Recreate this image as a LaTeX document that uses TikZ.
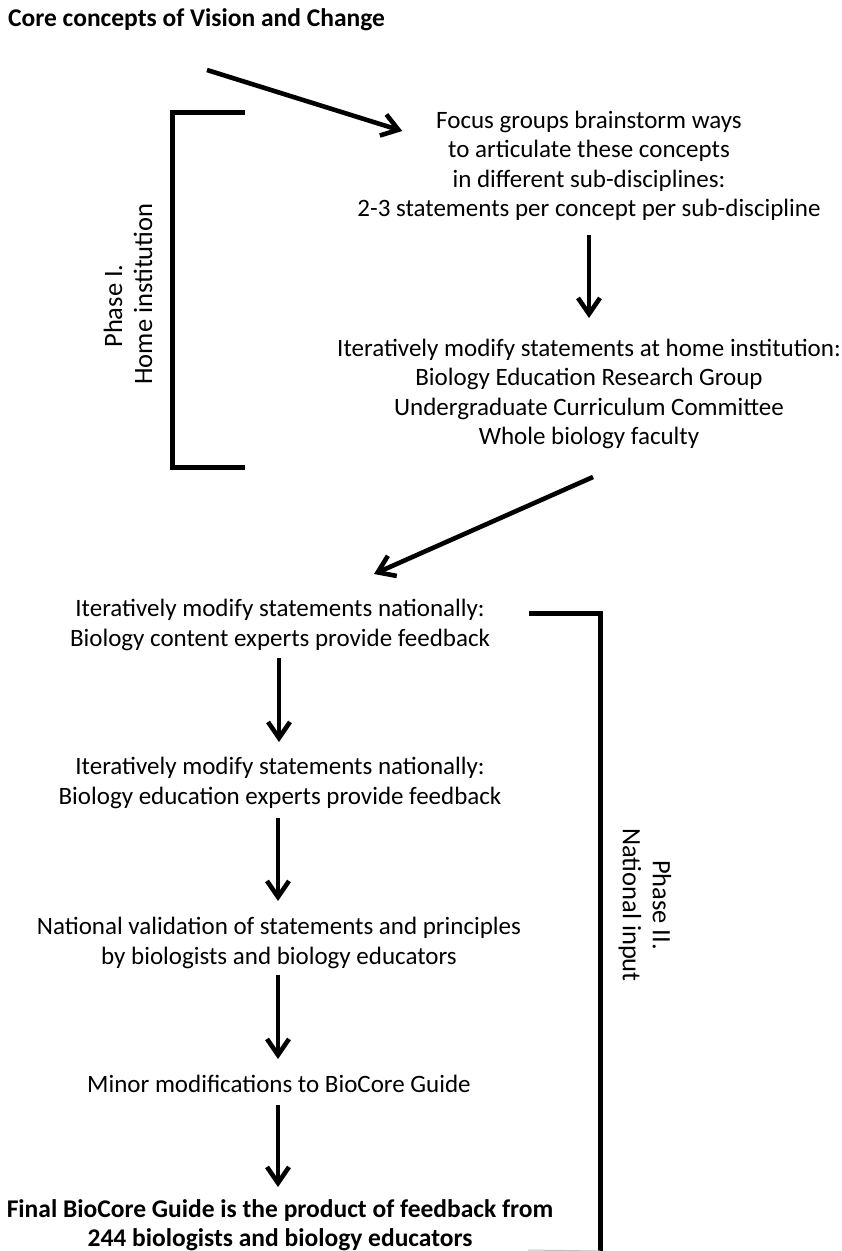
\documentclass[tikz,border=0pt]{standalone}
\usepackage{fontspec}
\setmainfont{Carlito}
\usetikzlibrary{arrows.meta,calc}
\begin{document}
\begin{tikzpicture}[x=1pt,y=-1pt,
  txt/.style={inner sep=0pt,align=center,font=\fontsize{25}{29.5}\selectfont},
  btxt/.style={txt,font=\fontsize{25.5}{29.5}\selectfont\bfseries},
  lbl/.style={inner sep=0pt,align=center,font=\fontsize{26.5}{30}\selectfont},
  arr/.style={line width=4.6pt,-{Straight Barb[length=16pt,width=22pt]}},
  bracket/.style={line width=5pt,line cap=butt,line join=miter}]
\useasboundingbox (0,0) rectangle (842,1251);
\fill[white] (0,0) rectangle (842,1251);

\node[btxt,anchor=west] (title) at (8,20) {Core concepts of Vision and Change};
\node[txt] (focus) at (589,166) {Focus groups brainstorm ways\\to articulate these concepts\\in different sub-disciplines:\\2-3 statements per concept per sub-discipline};
\node[txt] (home) at (589,394) {Iteratively modify statements at home institution:\\Biology Education Research Group\\Undergraduate Curriculum Committee\\Whole biology faculty};
\node[txt] (nat1) at (280,625) {Iteratively modify statements nationally:\\Biology content experts provide feedback};
\node[txt] (nat2) at (280,783) {Iteratively modify statements nationally:\\Biology education experts provide feedback};
\node[txt] (nat3) at (279,943) {National validation of statements and principles\\by biologists and biology educators};
\node[txt] (minor) at (279,1084) {Minor modifications to BioCore Guide};
\node[btxt] (final) at (280,1225) {Final BioCore Guide is the product of feedback from\\244 biologists and biology educators};

\node[lbl,rotate=90] (ph1) at (128,294) {Phase I.\hspace*{24pt}\\Home institution};
\node[lbl,rotate=-90] (ph2) at (645,905) {Phase II.\\National input};

% connectors
\draw[arr] ($(title.west)+(199,50)$) -- ($(focus.west)+(45,-35)$);
\draw[arr] ($(focus.center)+(0,69)$) -- ($(home.center)+(0,-76)$);
\draw[arr] ($(home.center)+(4,83)$) -- ($(nat1.center)+(94,-51)$);
\draw[arr] ($(nat1.center)+(-1,33)$) -- ($(nat2.center)+(-1,-41)$);
\draw[arr] ($(nat2.center)+(-2,35)$) -- ($(nat3.center)+(-1,-42)$);
\draw[arr] ($(nat3.center)+(-1,32)$) -- ($(minor.center)+(-1,-25)$);
\draw[arr] ($(minor.center)+(-1,21)$) -- ($(final.center)+(-2,-38)$);

% brackets
\coordinate (b1a) at (245,112);
\coordinate (b1b) at (172,112);
\coordinate (b1c) at (172,467);
\coordinate (b1d) at (245,467);
\draw[bracket] (b1a) -- (b1b) -- (b1c) -- (b1d);
\coordinate (b2a) at (529,613);
\coordinate (b2b) at (600,613);
\coordinate (b2c) at (600,1251);
\draw[bracket] (b2a) -- (b2b) -- (b2c);
\coordinate (b2d) at (528,1250);
\draw[black!25,line width=1pt] (b2d) -- (b2c -| b2b);
\end{tikzpicture}
\end{document}
